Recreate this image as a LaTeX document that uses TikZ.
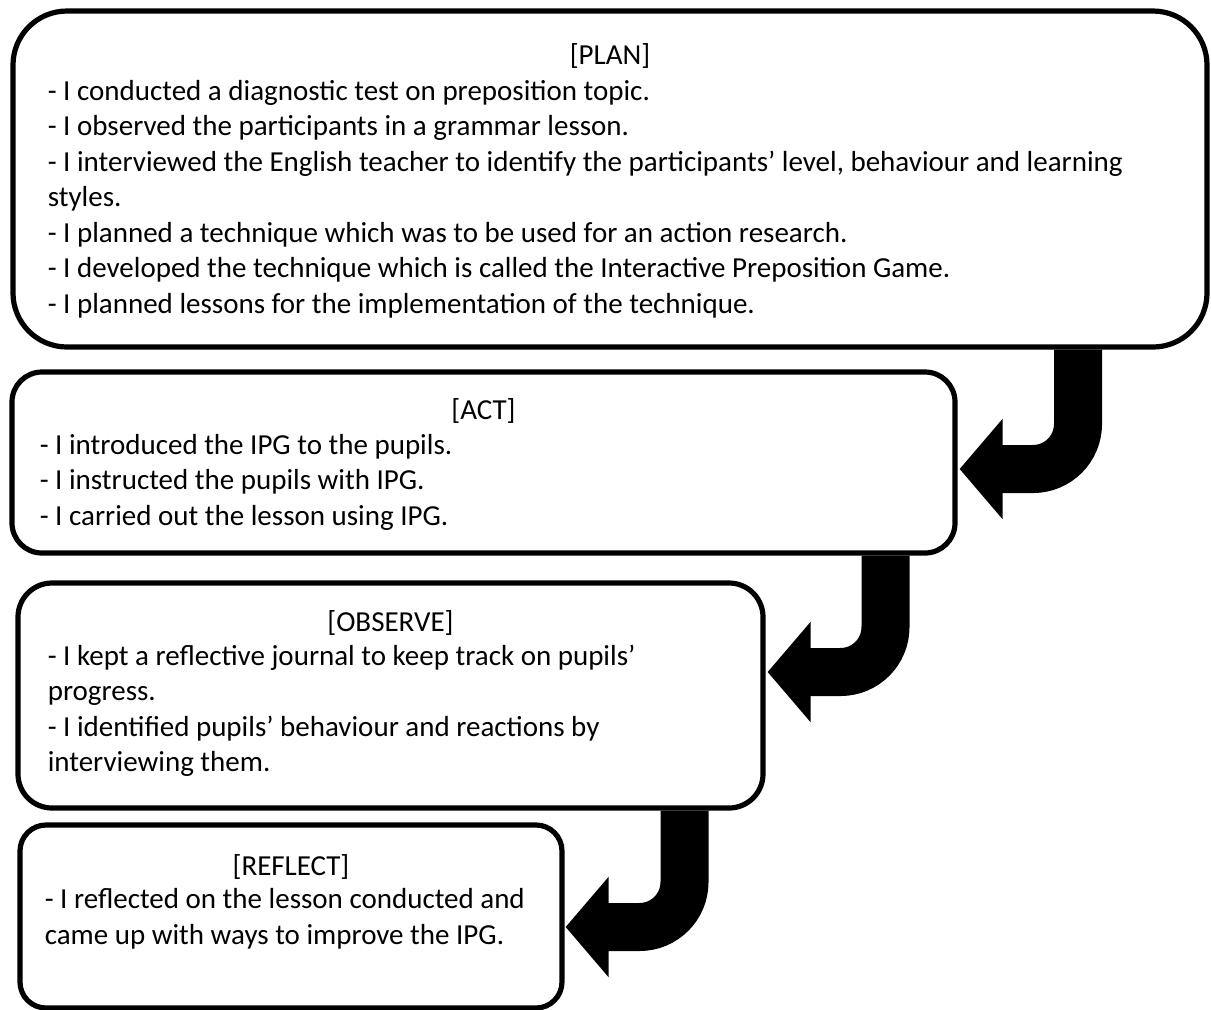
\documentclass[tikz,border=0pt]{standalone}
\usepackage{fontspec}
\setmainfont{Carlito}
\usetikzlibrary{arrows.meta,calc}

\tikzset{
	stagebox/.style={draw, fill=white, line width=2.6pt, inner sep=0pt,
		rounded corners=#1},
	headtext/.style={anchor=base, inner sep=0pt,
		font=\fontsize{14.5}{17.75}\selectfont},
	bodytext/.style={anchor=base west, align=left, inner sep=0pt,
		font=\fontsize{14.5}{17.75}\selectfont},
	stagearrow/.style={draw, line width=24pt, rounded corners=22.5pt,
		-{Triangle[length=21.5pt, width=49pt]}}
}

\begin{document}
\begin{tikzpicture}[x=0.5pt, y=-0.5pt]
		\useasboundingbox (0,0) rectangle (1211,1009);
		% boxes
		\node[stagebox=27pt, minimum width=597pt, minimum height=168pt]
			(plan) at (610,179) {};
		\node[stagebox=15pt, minimum width=471.5pt, minimum height=90.5pt]
			(act) at (483.5,462.5) {};
		\node[stagebox=17pt, minimum width=372.5pt, minimum height=112.5pt]
			(observe) at (390.5,695.5) {};
		\node[stagebox=13pt, minimum width=271pt, minimum height=91.5pt]
			(reflect) at (291,916.5) {};
		% texts (body anchored at the baseline of its last line)
		\node[headtext] (planhead) at ($(plan.north)+(0,56)$) {[PLAN]};
		\node[bodytext] (planbody) at ($(plan.north west)+(37,305)$) {%
			- I conducted a diagnostic test on preposition topic.\\
			- I observed the participants in a grammar lesson.\\
			- I interviewed the English teacher to identify the participants’ level, behaviour and learning\\
			styles.\\
			- I planned a technique which was to be used for an action research.\\
			- I developed the technique which is called the Interactive Preposition Game.\\
			- I planned lessons for the implementation of the technique.};
		\node[headtext] (acthead) at ($(act.north)+(0,50)$) {[ACT]};
		\node[bodytext] (actbody) at ($(act.north west)+(30,156)$) {%
			- I introduced the IPG to the pupils.\\
			- I instructed the pupils with IPG.\\
			- I carried out the lesson using IPG.};
		\node[headtext] (observehead) at ($(observe.north)+(0,51)$) {[OBSERVE]};
		\node[bodytext] (observebody) at ($(observe.north west)+(32,191.5)$) {%
			- I kept a reflective journal to keep track on pupils’\\
			progress.\\
			- I identified pupils’ behaviour and reactions by\\
			interviewing them.};
		\node[headtext] (reflecthead) at ($(reflect.north)+(0,53)$) {[REFLECT]};
		\node[bodytext] (reflectbody) at ($(reflect.north west)+(27,122)$) {%
			- I reflected on the lesson conducted and\\
			came up with ways to improve the IPG.};
		% bent arrows
		\draw[stagearrow] ($(plan.south)+(468,0)$) |- ($(act.east)+(2,6.5)$);
		\draw[stagearrow] ($(act.south)+(402,0)$) |- ($(observe.east)+(2,-23.5)$);
		\draw[stagearrow] ($(observe.south)+(294,0)$) |- ($(reflect.east)+(1,10.5)$);
	\end{tikzpicture}
\end{document}
